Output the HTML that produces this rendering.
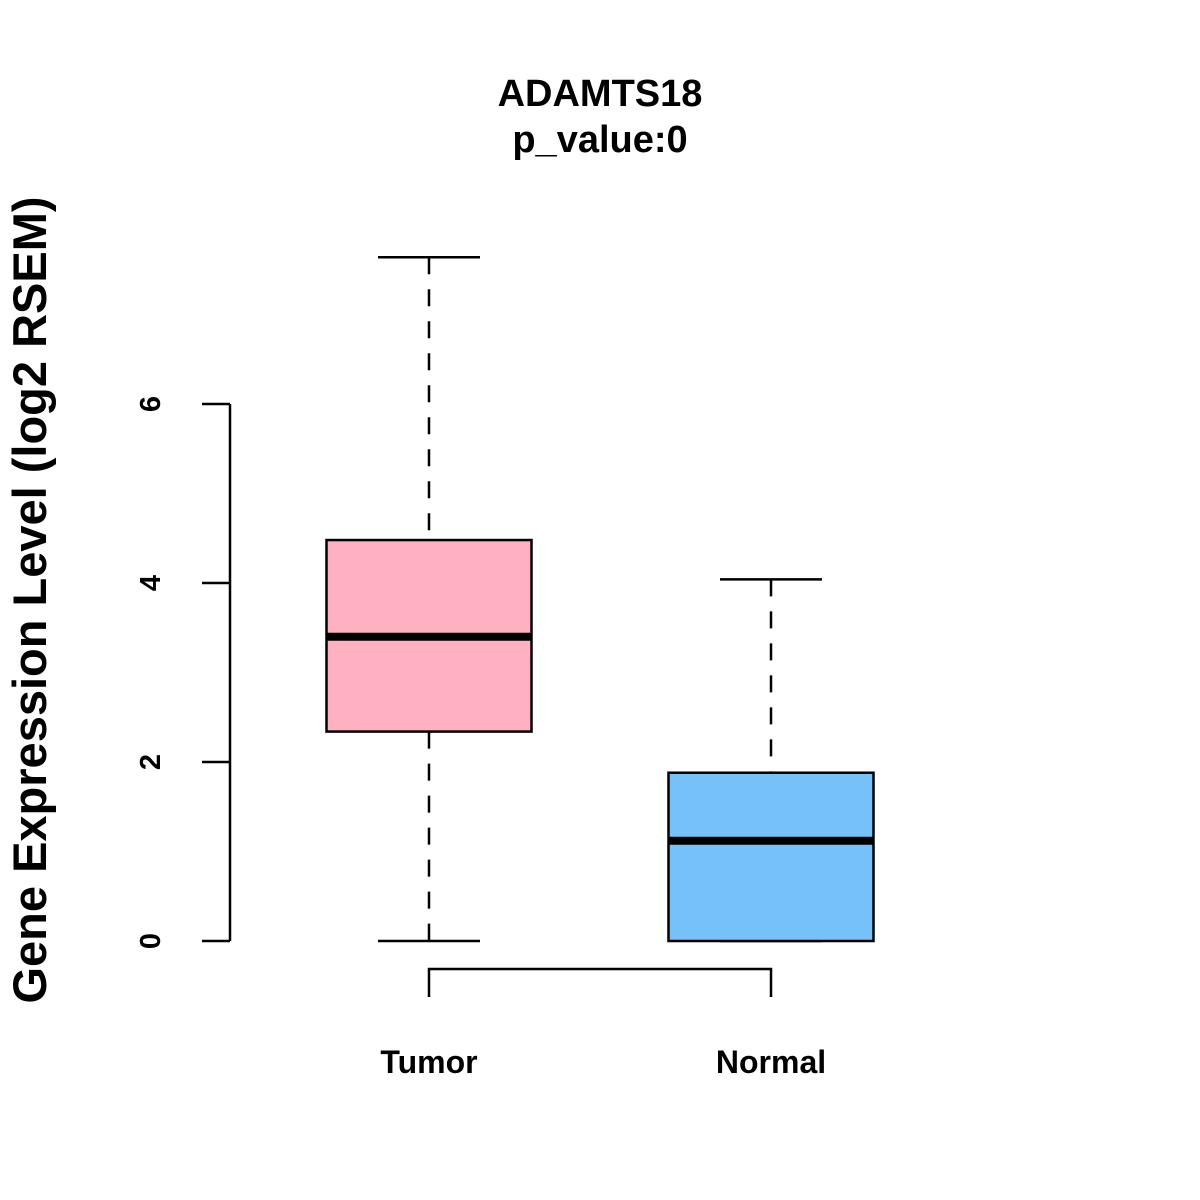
<!DOCTYPE html>
<html><head><meta charset="utf-8"><style>body{margin:0;background:#fff}svg{display:block}text{font-family:"Liberation Sans",Arial,sans-serif;font-weight:bold;fill:#000}</style></head>
<body>
<svg id="chart" width="1200" height="1200" viewBox="0 0 1200 1200">
<text x="600" y="106" font-size="38" text-anchor="middle">ADAMTS18</text>
<text x="600" y="152" font-size="38" text-anchor="middle">p_value:0</text>
<text transform="translate(46,600) rotate(-90)" font-size="47" text-anchor="middle">Gene Expression Level (log2 RSEM)</text>
<g id="yaxis"></g>
<g id="xaxis"></g>
<g id="boxes"></g>
</svg>
<script>
const categories = ["Tumor", "Normal"];
const whiskerLow = [0, 0];
const q1 = [2.34, 0];
const median = [3.40, 1.12];
const q3 = [4.48, 1.88];
const whiskerHigh = [7.64, 4.04];
const colors = ["#FFB0C1", "#77C1F9"];
const yTicks = [0, 2, 4, 6];

const NS = "http://www.w3.org/2000/svg";
function y(v){ return 941 - v * 89.5; }
function x(i){ return 429 + i * 342; }
function mk(tag, attrs, parent){ const e = document.createElementNS(NS, tag); for (const k in attrs) e.setAttribute(k, attrs[k]); parent.appendChild(e); return e; }

const ya = document.getElementById('yaxis');
let al = mk('line', {x1:230, x2:230, y1:y(yTicks[0]), y2:y(yTicks[yTicks.length-1]), stroke:'#000', 'stroke-width':2.5}, ya);


yTicks.forEach(t => {
  const tk = mk('line', {x1:202, x2:230, y1:y(t), y2:y(t), stroke:'#000', 'stroke-width':2.5}, ya);
  
  
  const tx = mk('text', {transform:`translate(160,${y(t)}) rotate(-90)`, 'font-size':29, 'text-anchor':'middle'}, ya);
  tx.textContent = t;
  
  
});

const xa = document.getElementById('xaxis');
const xl = mk('polyline', {points:`${x(0)},997 ${x(0)},969 ${x(1)},969 ${x(1)},997`, fill:'none', stroke:'#000', 'stroke-width':2.5}, xa);


categories.forEach((c, i) => {
  const tx = mk('text', {x:x(i), y:1073, 'font-size':32, 'text-anchor':'middle'}, xa);
  tx.textContent = c;
  
  
});

const bx = document.getElementById('boxes');
categories.forEach((c, i) => {
  const g = mk('g', {}, bx);
  
  
  const cx = x(i);
  mk('line', {x1:cx, x2:cx, y1:y(whiskerHigh[i]), y2:y(q3[i]), stroke:'#000', 'stroke-width':2.5, 'stroke-dasharray':'17 15'}, g);
  mk('line', {x1:cx, x2:cx, y1:y(q1[i]), y2:y(whiskerLow[i]), stroke:'#000', 'stroke-width':2.5, 'stroke-dasharray':'17 15'}, g);
  mk('line', {x1:cx-51, x2:cx+51, y1:y(whiskerHigh[i]), y2:y(whiskerHigh[i]), stroke:'#000', 'stroke-width':2.5}, g);
  mk('line', {x1:cx-51, x2:cx+51, y1:y(whiskerLow[i]), y2:y(whiskerLow[i]), stroke:'#000', 'stroke-width':2.5}, g);
  mk('rect', {x:cx-102.5, y:y(q3[i]), width:205, height:y(q1[i])-y(q3[i]), fill:colors[i], stroke:'#000', 'stroke-width':2.5}, g);
  mk('line', {x1:cx-102.5, x2:cx+102.5, y1:y(median[i]), y2:y(median[i]), stroke:'#000', 'stroke-width':8}, g);
});
</script>
</body></html>
